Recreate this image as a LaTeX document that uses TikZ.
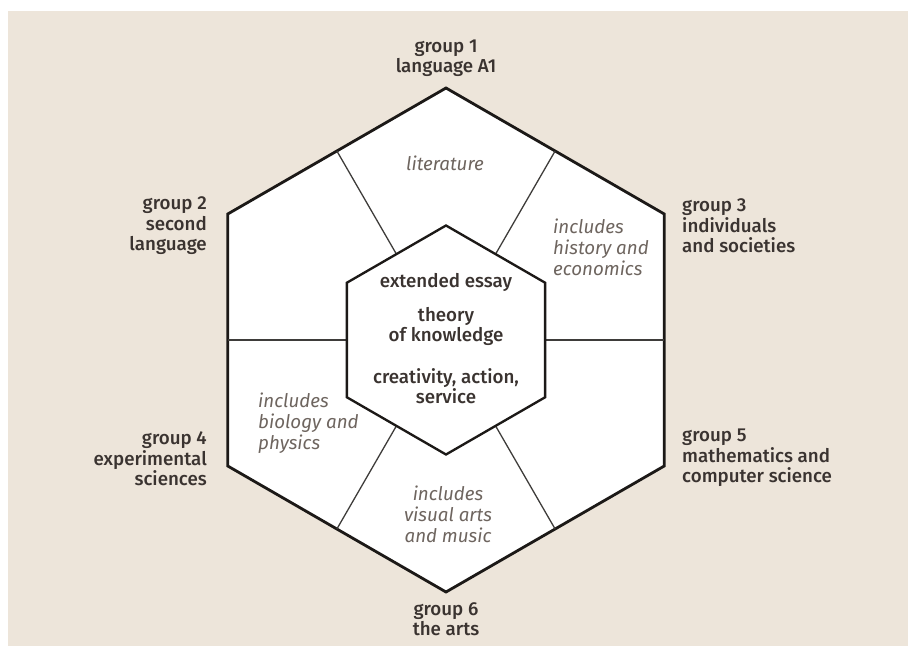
\documentclass[tikz,border=0pt]{standalone}
\usepackage{fontspec}
\setmainfont{Fira Sans}[BoldFont={Fira Sans Medium},ItalicFont={Fira Sans Italic}]
\usepackage{xcolor}
\usepackage{tikz}
\definecolor{paper}{HTML}{EDE5DA}
\definecolor{ink}{HTML}{3A3330}
\definecolor{soft}{HTML}{6E655F}
\definecolor{edge}{HTML}{1C1917}
\tikzset{
  hexline/.style={draw=edge, line width=2.4pt, line join=miter, fill=white},
  coreline/.style={draw=edge, line width=2pt, line join=miter, fill=white},
  split/.style={draw=edge!85!white, line width=1.1pt},
  group/.style={text=ink, font=\fontsize{16}{17.5}\selectfont\bfseries, inner sep=0pt},
  note/.style={text=soft, font=\fontsize{16}{17.8}\selectfont\itshape, inner sep=0pt},
  core/.style={text=ink, font=\fontsize{16}{17}\selectfont\bfseries, align=center, inner sep=0pt}
}

\begin{document}
\begin{tikzpicture}[x=0.03cm, y=0.03cm]
  \useasboundingbox (-446,-306) rectangle (462,340);
  \fill[paper] (-438,-306) rectangle (462,329);

  % outer ring, dividers, core
  \draw[hexline] (90:252) \foreach \a in {150,210,270,330,30} {-- (\a:252)} -- cycle;
  \foreach \a in {0,60,...,300}
    \draw[split] (\a:99.2) -- (\a:218.2);
  \draw[coreline] (90:114.5) \foreach \a in {150,210,270,330,30} {-- (\a:114.5)} -- cycle;

  \node[group, align=center] (g1) at (0,282) {group 1\\language A1};
  \node[group, align=right, anchor=east] (g2) at (-239,114) {group 2\\second\\language};
  \node[group, align=left, anchor=west] (g3) at (236,114) {group 3\\individuals\\and societies};
  \node[group, align=right, anchor=east] (g4) at (-239,-119) {group 4\\experimental\\sciences};
  \node[group, align=left, anchor=west] (g5) at (236,-118) {group 5\\mathematics and\\computer science};
  \node[group, align=center] (g6) at (0,-279) {group 6\\the arts};

  \node[note] (lit) at (-1,177) {literature};
  \node[note, align=left, anchor=west] (hist) at (107,93) {includes\\history and\\economics};
  \node[note, align=left, anchor=west] (bio) at (-188,-83) {includes\\biology and\\physics};
  \node[note, align=center] (arts) at (2,-174) {includes\\visual arts\\and music};

  \node[core] (ee) at (0,58) {extended essay};
  \node[core] (tok) at (0,13.5) {theory\\of knowledge};
  \node[core] (cas) at (0,-46.5) {creativity, action,\\service};
\end{tikzpicture}
\end{document}
